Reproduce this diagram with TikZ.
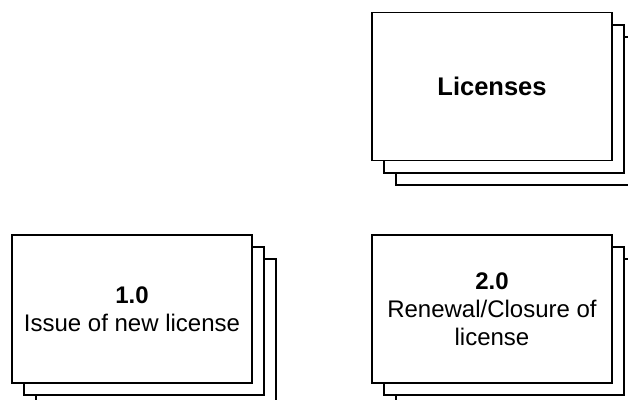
\documentclass[tikz,border=0pt]{standalone}
\usepackage{fontspec}
\setmainfont{Liberation Sans}
\begin{document}
\begin{tikzpicture}[x=1pt,y=-1pt,
  sheet/.style={draw=black,fill=white,line width=1.3pt,rectangle,
    minimum width=240pt,minimum height=148pt,inner sep=0pt},
  label/.style={align=center,font=\fontsize{24}{28}\selectfont}]
\useasboundingbox (0,0) rectangle (628,399);
\clip (0,0) rectangle (628,399);
% Licenses data store: stacked sheets, back to front
\node[sheet] (lic3) at (516,111) {};
\node[sheet] (lic2) at (504,99) {};
\node[sheet] (lic1) at (492,86.5) {};
\node[label,font=\fontsize{25.5}{28}\selectfont\bfseries] (lict) at (lic1.center) {Licenses};
% Process 1.0
\node[sheet] (p13) at (156,333) {};
\node[sheet] (p12) at (144,321) {};
\node[sheet] (p11) at (132,309) {};
\node[label] (p1t) at (p11.center) {\textbf{1.0}\\Issue of new license};
% Process 2.0
\node[sheet] (p23) at (516,333) {};
\node[sheet] (p22) at (504,321) {};
\node[sheet] (p21) at (492,309) {};
\node[label] (p2t) at (p21.center) {\textbf{2.0}\\Renewal/Closure of\\license};
\end{tikzpicture}
\end{document}
